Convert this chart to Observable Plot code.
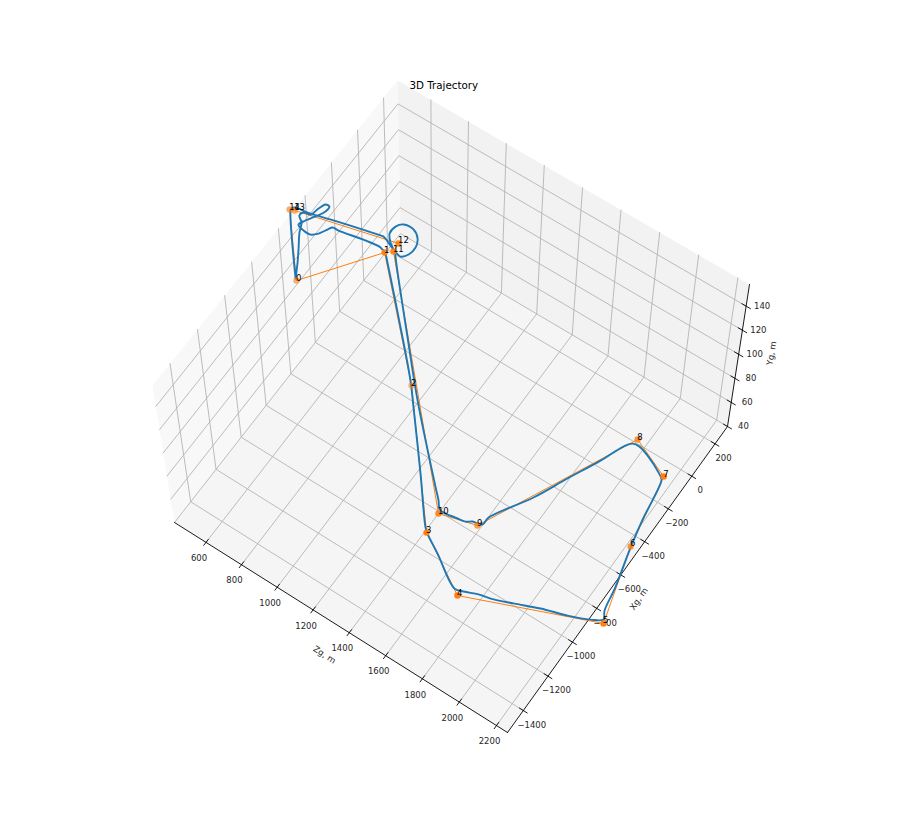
<!doctype html><html><head><meta charset="utf-8"><style>html,body{margin:0;background:#fff}svg{display:block}</style></head><body><div id="c"></div>
<script src="https://cdn.jsdelivr.net/npm/d3@7"></script><script src="https://cdn.jsdelivr.net/npm/@observablehq/plot@0.6"></script>
<script>
const zTicks=[600,800,1000,1200,1400,1600,1800,2000,2200];
const xTicks=[-1400,-1200,-1000,-800,-600,-400,-200,0,200];
const yTicks=[40,60,80,100,120,140];
const zLim=[421,2259], xLim=[-1527,308], yLim=[40,158];
const trackY=40;
const pathZ=[146,104,64,17,-6,-37,-30,4,17,32,54,54,30,3,-12,27,67,96,119,133,166,385,427,459,671,906,998,1217,1391,1415,1510,1672,1714,1778,1835,1934,2049,2169,2266,2314,2294,2272,2223,2192,2165,2153,2123,2034,1978,1943,1917,1868,1792,1716,1602,1598,1552,1526,1476,1427,1393,1363,1315,993,788,476,460,492,518,524,504,460,405,380,378,409,443,363,348,134,-14,-63,-82,-91,-88,146];
const pathX=[-172,-96,-31,43,93,119,144,153,202,239,240,207,158,113,76,63,63,89,131,154,156,192,174,143,-72,-316,-425,-688,-902,-922,-979,-1080,-1069,-1043,-1029,-991,-943,-904,-862,-829,-789,-667,-466,-317,-134,-92,-70,-25,-7,-12,-48,-168,-330,-498,-698,-743,-756,-774,-783,-792,-790,-755,-708,-384,-160,187,209,204,235,285,331,361,357,326,279,241,217,249,246,194,154,148,142,130,118,-172];
const wpNames=["0","1","2","3","4","5","6","7","8","9","10","11","12","13","14"];
const wpZ=[156,417,925,1409,1702,2325,2219,2153,1951,1582,1400,449,444,-72,-95];
const wpX=[-179,180,-335,-920,-1101,-845,-456,-74,19,-760,-810,208,258,129,120];
const wpShade=[.6,.9,.55,1,1,1,.8,1,.8,.75,.9,.9,.9,.65,.65];
// screen corners of the axes box floor and height offsets (view calibration of the 3D camera)
const floorQuad=[[174,522],[507,732],[727,426],[400,233]];
const liftBL=[-22,-137],liftBR=[19,-126],liftTR=[22,-142],liftTL=[-3,-153];
const [p0,p1,p2,p3]=floorQuad;
const dx1=p1[0]-p2[0],dx2=p3[0]-p2[0],sx=p0[0]-p1[0]+p2[0]-p3[0],dy1=p1[1]-p2[1],dy2=p3[1]-p2[1],sy=p0[1]-p1[1]+p2[1]-p3[1];
const den=dx1*dy2-dx2*dy1,G=(sx*dy2-dx2*sy)/den,H=(dx1*sy-sx*dy1)/den;
const A=p1[0]-p0[0]+G*p1[0],B=p3[0]-p0[0]+H*p3[0],C=p0[0],D=p1[1]-p0[1]+G*p1[1],E=p3[1]-p0[1]+H*p3[1],F=p0[1];
function proj(z,x,y){
  const u=(z-zLim[0])/(zLim[1]-zLim[0]),v=(x-xLim[0])/(xLim[1]-xLim[0]),w=(y-yLim[0])/(yLim[1]-yLim[0]);
  const q=G*u+H*v+1,sxp=(A*u+B*v+C)/q,syp=(D*u+E*v+F)/q;
  const l=i=>(1-u)*(1-v)*liftBL[i]+u*(1-v)*liftBR[i]+u*v*liftTR[i]+(1-u)*v*liftTL[i];
  return [sxp+w*l(0),syp+w*l(1)];
}
const pt=(z,x,y,k)=>{const [px,py]=proj(z,x,y);return {z,x,y,k,px,py}};
const [z0,z1]=zLim,[x0,x1]=xLim,[y0,y1]=yLim;
const poly=(k,l)=>l.map(c=>pt(c[0],c[1],c[2],k));
const paneLeft=poly("l",[[z0,x0,y0],[z0,x1,y0],[z0,x1,y1],[z0,x0,y1],[z0,x0,y0]]);
const paneRight=poly("r",[[z0,x1,y0],[z1,x1,y0],[z1,x1,y1],[z0,x1,y1],[z0,x1,y0]]);
const paneFloor=poly("f",[[z0,x0,y0],[z1,x0,y0],[z1,x1,y0],[z0,x1,y0],[z0,x0,y0]]);
const grid=[
 ...zTicks.flatMap(t=>poly("z"+t,[[t,x0,y0],[t,x1,y0],[t,x1,y1]])),
 ...xTicks.flatMap(t=>poly("x"+t,[[z1,t,y0],[z0,t,y0],[z0,t,y1]])),
 ...yTicks.flatMap(t=>poly("y"+t,[[z0,x0,t],[z0,x1,t],[z1,x1,t]]))
];
const axes=poly("a",[[z0,x0,y0],[z1,x0,y0]]).concat(poly("b",[[z1,x0,y0],[z1,x1,y0]])).concat(poly("c",[[z1,x1,y0],[z1,x1,y1]]));
const tickMarks=[
 ...zTicks.flatMap(t=>poly("z"+t,[[t,x0-18,y0],[t,x0+18,y0]])),
 ...xTicks.flatMap(t=>poly("x"+t,[[z1-21,t,y0],[z1+21,t,y0]])),
 ...yTicks.flatMap(t=>poly("y"+t,[[z1-22,x1,t],[z1+22,x1,t]]))
];
const fmt=t=>String(t).replace("-","\u2212");
const zLab=zTicks.map(t=>({...pt(t,x0,y0),s:fmt(t)}));
const xLab=xTicks.map(t=>({...pt(z1,t,y0),s:fmt(t)}));
const yLab=yTicks.map(t=>({...pt(z1,x1,t),s:fmt(t)}));
const track=pathZ.map((z,i)=>pt(z,pathX[i],trackY));
const wps=wpZ.map((z,i)=>({...pt(z,wpX[i],trackY),s:wpNames[i],shade:wpShade[i]}));
const wpLine=[...wps,wps[0]];
const X={x:"px",y:"py"};
const tick={...X,fontSize:8.5,fill:"#262626",text:"s",textAnchor:"middle"};
const chart=Plot.plot({
 width:904,height:814,margin:0,
 x:{domain:[0,904],range:[0,904],axis:null},
 y:{domain:[0,814],range:[0,814],axis:null},
 opacity:{type:"identity"},
 style:{fontFamily:"'DejaVu Sans'",background:"#fff"},
 marks:[
  Plot.line(paneLeft,{...X,fill:"#f8f8f8",stroke:"none"}),
  Plot.line(paneRight,{...X,fill:"#f2f2f2",stroke:"none"}),
  Plot.line(paneFloor,{...X,fill:"#f5f5f5",stroke:"none"}),
  Plot.line(grid,{...X,z:"k",stroke:"#b4b4b4",strokeWidth:0.9,strokeLinejoin:"round"}),
  Plot.line(axes,{...X,z:"k",stroke:"#000",strokeWidth:0.9}),
  Plot.line(tickMarks,{...X,z:"k",stroke:"#000",strokeWidth:0.9}),
  Plot.text(zLab,{...tick,dx:-7,dy:16}),
  Plot.text(xLab,{...tick,dx:8.5,dy:14.5}),
  Plot.text(yLab,{...tick,dx:16,dy:0}),
  Plot.text([pt(1340,x0,y0)],{...X,text:()=>"Zg, m",fontSize:8.5,rotate:33,dx:-14,dy:29,fill:"#262626"}),
  Plot.text([pt(z1,-600,y0)],{...X,text:()=>"Xg, m",fontSize:8.5,rotate:-55,dx:18,dy:24,fill:"#262626"}),
  Plot.text([pt(z1,x1,100)],{...X,text:()=>"Yg, m",fontSize:8.5,rotate:-80,dx:33,dy:-1,fill:"#262626"}),
  Plot.line(wpLine,{...X,stroke:"#ff7f0e",strokeWidth:1}),
  Plot.line(track,{...X,stroke:"#1f77b4",strokeWidth:1.9,curve:"catmull-rom",strokeLinejoin:"round"}),
  Plot.dot(wps,{...X,r:3.2,fill:"#ff7f0e",fillOpacity:"shade",stroke:"none"}),
  Plot.text(wps,{...X,text:"s",fontSize:8.5,textAnchor:"start",lineAnchor:"bottom",dx:-0.5,dy:0,fill:"#000"}),
  Plot.text(["3D Trajectory"],{frameAnchor:"top-left",dx:409,dy:81,fontSize:10.3,textAnchor:"start",lineAnchor:"top",fill:"#000"})
 ]
});
document.getElementById("c").append(chart);
</script></body></html>
